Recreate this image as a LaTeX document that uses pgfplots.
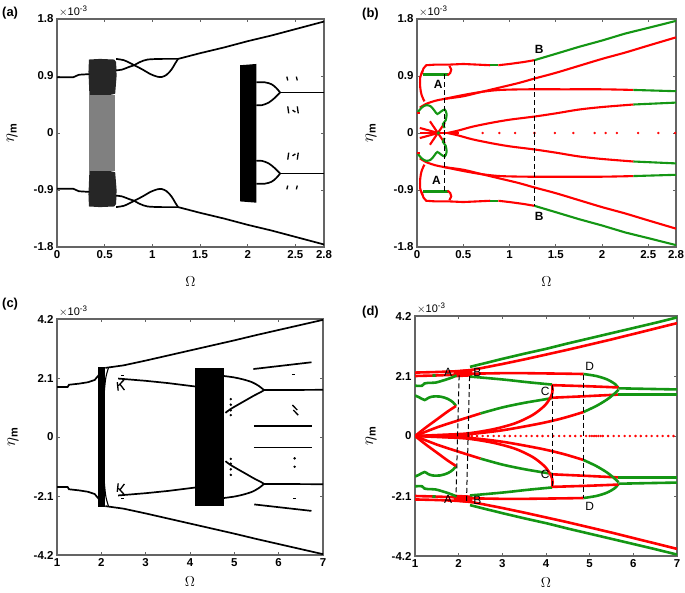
\documentclass[border=0pt]{standalone}
\usepackage{pgfplots}
\pgfplotsset{compat=1.18}
\usepackage{fontspec}
\setmainfont{Liberation Sans}
\definecolor{mred}{RGB}{255,0,0}
\definecolor{mgreen}{RGB}{20,150,20}
\definecolor{frm}{RGB}{100,100,100}
\newcommand{\both}[2]{\addplot[#1] coordinates {#2};\addplot[#1,y filter/.expression={-y}] coordinates {#2};}
\pgfplotsset{
 panel/.style={scale only axis, anchor=south west, clip mode=individual,
  axis line style={frm, line width=1.1bp},
  tick style={frm, line width=0.8bp},
  major tick length=3bp, tick align=inside,
  tick label style={font=\fontsize{11.5}{12}\selectfont\bfseries, text=black},
  xlabel={$\Omega$},
  ylabel={$\eta_{\mbox{\fontsize{11}{11}\selectfont\bfseries m}}$},
  ylabel style={at={(axis description cs:0,0.5)}, anchor=center, font=\fontsize{16}{16}\selectfont},
  xlabel style={at={(axis description cs:0.5,0)}, anchor=center, font=\fontsize{14}{14}\selectfont},
 },
 abx/.style={xmin=0,xmax=2.8,ymin=-1.8,ymax=1.8,
  xtick={0,0.5,1,1.5,2,2.5,2.8}, xticklabels={0,0.5,1,1.5,2,2.5,2.8},
  ytick={-1.8,-0.9,0,0.9,1.8}, yticklabels={-1.8,-0.9,0,0.9,1.8}},
 cdx/.style={xmin=1,xmax=7,ymin=-4.2,ymax=4.2,
  xtick={1,2,3,4,5,6,7}, xticklabels={1,2,3,4,5,6,7},
  ytick={-4.2,-2.1,0,2.1,4.2}, yticklabels={-4.2,-2.1,0,2.1,4.2}},
 blk/.style={black, line width=1.7bp, no marks},
 rd/.style={color=mred, line width=2.1bp, no marks},
 gr/.style={color=mgreen, line width=2.1bp, no marks},
 rdd/.style={color=mred, line width=2.6bp, no marks},
 grd/.style={color=mgreen, line width=2.6bp, no marks},
 dsh/.style={black, line width=1bp, dash pattern=on 5bp off 3bp, no marks},
}
\newcommand{\expo}{\node[anchor=south west, inner sep=0pt, font=\fontsize{11}{11}\selectfont] at (rel axis cs:0,1) [xshift=2bp,yshift=2bp] {$\times$10\raisebox{4bp}{\fontsize{8}{8}\selectfont -3}};}
\begin{document}
\begin{tikzpicture}
\useasboundingbox (0,0) rectangle (685bp,-593bp);
% ---------------- (a)
\begin{axis}[panel, abx, at={(57bp,-247bp)}, width=267bp, height=228bp,
  xlabel style={yshift=-35bp}, ylabel style={yshift=45bp}]
\both{draw=none, fill=black!85}{(0.33,0.97) (0.335,1.16) (0.45,1.17) (0.6,1.16) (0.62,1.12) (0.625,0.9) (0.61,0.62) (0.5,0.58) (0.34,0.6)}
\addplot[draw=none, fill=black!50] coordinates {(0.34,-0.6) (0.34,0.6) (0.61,0.6) (0.61,-0.6)};
\addplot[draw=none, fill=black] coordinates {(1.92,1.07) (2.09,1.09) (2.09,-1.1) (1.92,-1.08)};
\both{blk}{(0,0.88) (0.17,0.88) (0.2,0.9) (0.23,0.92) (0.34,0.93)}
\both{blk,smooth}{(0.62,1.17) (0.7,1.15) (0.76,1.11) (0.81,1.07)}
\both{blk,smooth}{(0.62,0.99) (0.68,1.0) (0.75,1.04) (0.81,1.07)}
\both{blk,smooth}{(0.81,1.07) (0.87,1.12) (0.95,1.16) (1.1,1.17) (1.27,1.17)}
\both{blk}{(1.27,1.17) (1.5,1.26) (1.75,1.35) (2.0,1.45) (2.25,1.54) (2.5,1.64) (2.8,1.76)}
\both{blk,smooth}{(0.81,1.07) (0.9,1.0) (0.98,0.93) (1.05,0.89) (1.1,0.885) (1.15,0.92) (1.2,1.0) (1.24,1.1) (1.27,1.17)}
\both{blk,smooth}{(2.09,0.80) (2.18,0.80) (2.25,0.77) (2.3,0.71) (2.34,0.64)}
\both{blk,smooth}{(2.09,0.44) (2.15,0.44) (2.22,0.48) (2.28,0.55) (2.34,0.64)}
\both{blk}{(2.34,0.64) (2.8,0.64)}
\both{blk,line width=1.3bp}{(2.41,0.89) (2.42,0.83)}
\both{blk,line width=1.3bp}{(2.51,0.89) (2.52,0.83)}
\both{blk,line width=1.3bp}{(2.42,0.42) (2.43,0.31)}
\both{blk,line width=1.3bp}{(2.47,0.36) (2.5,0.33)}
\both{blk,line width=1.3bp}{(2.52,0.42) (2.53,0.31)}
\expo
\end{axis}
% ---------------- (b)
\begin{axis}[panel, abx, at={(417bp,-247bp)}, width=259bp, height=228bp,
  xlabel style={yshift=-35bp}, ylabel style={yshift=46bp}]
\both{rd}{(0.05,0.93) (0.07,1.02) (0.1,1.07) (0.2,1.08) (0.35,1.08) (0.5,1.09) (0.65,1.08) (0.79,1.07)}
\both{gr}{(0.79,1.07) (0.88,1.07)}
\both{rd}{(0.88,1.07) (1.0,1.09) (1.15,1.12) (1.27,1.15)}
\both{gr}{(1.27,1.15) (1.5,1.25) (1.75,1.36) (2.0,1.46) (2.25,1.57) (2.5,1.66) (2.8,1.77)}
\both{rd,smooth}{(0.06,0.98) (0.035,0.88) (0.035,0.72) (0.05,0.6) (0.08,0.5)}
\both{gr,line width=3bp}{(0.07,0.92) (0.33,0.92)}
\both{rd,smooth}{(0.33,0.91) (0.36,0.95) (0.37,1.0) (0.35,1.06)}
\both{rd,smooth}{(0.03,0.40) (0.1,0.46) (0.2,0.51) (0.3,0.54) (0.5,0.6) (0.7,0.65) (0.9,0.68) (1.2,0.69) (1.6,0.69) (2.0,0.69) (2.34,0.68)}
\both{gr}{(2.34,0.68) (2.8,0.66)}
\both{rd,smooth}{(0.3,0.54) (0.5,0.58) (0.7,0.65) (0.9,0.72) (1.1,0.79) (1.27,0.86) (1.5,0.95) (1.75,1.06) (2.0,1.17) (2.25,1.27) (2.5,1.38) (2.8,1.51)}
\both{rd,smooth}{(0.33,0.0) (0.45,0.04) (0.6,0.1) (0.8,0.16) (1.0,0.21) (1.27,0.26) (1.5,0.31) (1.75,0.37) (2.0,0.41) (2.34,0.45)}
\both{gr}{(2.34,0.45) (2.8,0.48)}
\both{rd}{(0.14,0.185) (0.30,-0.16)}
\both{rd}{(0.03,0.08) (0.23,0.0)}
\addplot[rd] coordinates {(0.03,0) (0.45,0)};
\both{gr,smooth}{(0.01,0.33) (0.05,0.40) (0.1,0.44) (0.15,0.42) (0.19,0.35) (0.22,0.3) (0.26,0.34) (0.3,0.37) (0.32,0.3) (0.31,0.2) (0.28,0.14) (0.3,0.08)}
\both{rd}{(0,0.32) (0.03,0.32)}
\addplot[only marks, mark=*, mark size=1.5bp, color=mgreen] coordinates {(0.23,0)};
\addplot[only marks, mark=*, mark size=1bp, color=mred] coordinates {(0.71,0) (0.89,0) (1.06,0) (1.27,0) (1.49,0) (1.69,0) (1.92,0) (2.04,0) (2.16,0) (2.39,0) (2.61,0) (2.79,0)};
\addplot[dsh] coordinates {(0.30,0.93) (0.30,-0.93)};
\addplot[dsh] coordinates {(1.27,1.15) (1.27,-1.15)};
\node[font=\fontsize{12}{12}\selectfont\bfseries] at (axis cs:0.23,0.77) {A};
\node[font=\fontsize{12}{12}\selectfont\bfseries] at (axis cs:0.21,-0.75) {A};
\node[font=\fontsize{12}{12}\selectfont\bfseries] at (axis cs:1.32,1.32) {B};
\node[font=\fontsize{12}{12}\selectfont\bfseries] at (axis cs:1.32,-1.32) {B};
\expo
\end{axis}
% ---------------- (c)
\begin{axis}[panel, cdx, at={(57bp,-555bp)}, width=266bp, height=236bp,
  xlabel style={yshift=-27bp}, ylabel style={yshift=44bp}]
\addplot[draw=none, fill=black] coordinates {(1.93,2.48) (2.09,2.48) (2.09,-2.48) (1.93,-2.48)};
\addplot[draw=none, fill=black] coordinates {(4.11,2.47) (4.77,2.47) (4.77,-2.47) (4.11,-2.47)};
\addplot[blk, line width=1.1bp, smooth] coordinates {(2.16,2.45) (2.1,2.1) (2.06,1.4) (2.04,0) (2.06,-1.4) (2.1,-2.1) (2.16,-2.45)};
\both{blk}{(1,1.78) (1.24,1.78) (1.27,1.86) (1.5,1.9) (1.7,1.95) (1.85,2.03) (1.94,2.2)}
\both{blk}{(2.09,2.46) (2.5,2.55) (3,2.72) (3.5,2.9) (4,3.08) (4.5,3.26) (5,3.44) (5.5,3.63) (6,3.81) (6.5,3.99) (7,4.17)}
\both{blk}{(2.38,2.08) (3,2.0) (3.5,1.92) (4.11,1.8)}
\both{blk,smooth}{(4.77,2.17) (5.0,2.12) (5.2,2.05) (5.4,1.95) (5.55,1.82) (5.67,1.67)}
\both{blk,smooth}{(4.8,0.86) (4.9,0.98) (5.05,1.12) (5.25,1.3) (5.45,1.48) (5.6,1.6) (5.67,1.67)}
\both{blk}{(5.67,1.67) (7,1.68)}
\addplot[blk] coordinates {(5.43,2.42) (6.74,2.66)};
\addplot[blk] coordinates {(5.45,-2.4) (6.74,-2.63)};
\addplot[blk] coordinates {(5.44,0.40) (6.75,0.40)};
\addplot[blk] coordinates {(5.44,-0.37) (6.75,-0.37)};
\both{blk,line width=1.3bp}{(2.36,1.95) (2.38,1.65)}
\both{blk,line width=1.3bp}{(2.38,1.82) (2.52,2.05)}
\both{blk,line width=1.3bp}{(2.42,1.88) (2.52,1.67)}
\both{blk,line width=1.3bp}{(2.44,2.2) (2.52,2.2)}
\addplot[blk,line width=1.3bp] coordinates {(6.3,2.23) (6.36,2.23)};
\addplot[blk,line width=1.3bp] coordinates {(6.31,1.14) (6.42,0.96)};
\addplot[blk,line width=1.3bp] coordinates {(6.33,0.96) (6.44,0.78)};
\addplot[blk,line width=1.3bp] coordinates {(6.33,-2.2) (6.39,-2.2)};
\addplot[only marks, mark=*, mark size=1bp, black] coordinates {(6.36,-0.76) (6.36,-1.06) (4.92,1.35) (4.92,1.15) (4.92,0.95) (4.92,0.78) (4.92,-1.35) (4.92,-1.15) (4.92,-0.95) (4.92,-0.78)};
\expo
\end{axis}
% ---------------- (d)
\begin{axis}[panel, cdx, at={(415bp,-556bp)}, width=262bp, height=240bp,
  xlabel style={yshift=-27bp}, ylabel style={yshift=44bp}]
\both{draw=none, fill=mred}{(1.88,2.05) (2.3,2.08) (2.32,2.36) (1.9,2.3)}
\both{grd}{(2.26,2.42) (3,2.7) (3.5,2.88) (4,3.05) (4.5,3.24) (5,3.42) (5.5,3.6) (6,3.78) (6.5,3.96) (7,4.15)}
\both{rdd}{(1,2.22) (1.5,2.24) (2.0,2.27) (2.26,2.3) (2.6,2.4) (3,2.52) (3.5,2.68) (4,2.85) (4.5,3.02) (5,3.2) (5.5,3.38) (6,3.57) (6.5,3.76) (7,3.95)}
\both{rdd}{(1,2.1) (1.5,2.12) (2.0,2.15) (2.26,2.18) (3,2.2) (3.5,2.2) (4,2.19) (4.5,2.18) (4.86,2.17)}
\both{grd}{(1.4,2.115) (1.47,2.12)}
\both{grd,smooth}{(4.86,2.17) (5.15,2.1) (5.4,1.98) (5.58,1.82) (5.66,1.68)}
\both{grd,smooth}{(1.0,1.76) (1.16,1.76) (1.22,1.84) (1.3,1.86) (1.47,1.87) (1.7,1.97) (1.85,2.05) (1.95,2.12)}
\both{grd,smooth}{(2.26,2.08) (3,1.98) (3.6,1.88) (4.14,1.8)}
\both{rdd}{(4.14,1.78) (5.0,1.74) (5.66,1.7)}
\both{grd}{(5.66,1.67) (6.3,1.65) (7,1.63)}
\both{rdd}{(4.14,1.34) (5.0,1.4) (5.66,1.45)}
\both{grd}{(5.66,1.45) (7,1.45)}
\both{grd,smooth}{(1.0,1.42) (1.1,1.35) (1.22,1.26) (1.3,1.33) (1.4,1.38) (1.58,1.38) (1.75,1.3) (1.87,1.18) (1.94,1.05)}
\both{rdd,smooth}{(1.94,1.05) (1.75,0.86) (1.5,0.58) (1.25,0.3) (1,0)}
\both{rdd,smooth}{(1,0) (1.5,0.3) (2.0,0.55) (2.5,0.79)}
\both{grd,smooth}{(2.5,0.79) (3.0,1.0) (3.5,1.16) (4.0,1.29) (4.14,1.33)}
\both{rdd,smooth}{(1,0) (1.6,0.04) (2.2,0.09) (2.8,0.24) (3.3,0.45) (3.7,0.74) (3.98,1.08) (4.12,1.4) (4.15,1.6) (4.14,1.78)}
\both{rdd,smooth}{(1,0) (1.6,0.02) (2.2,0.06) (3,0.2) (3.87,0.44) (4.4,0.63) (4.86,0.84)}
\both{grd,smooth}{(4.86,0.84) (5.15,1.05) (5.4,1.28) (5.58,1.5) (5.66,1.62)}
\addplot[rdd] coordinates {(1,0) (2.25,0)};
\addplot[only marks, mark=*, mark size=1bp, color=mred] coordinates {(2.3,0) (2.42,0) (2.55,0) (2.67,0) (2.8,0) (2.92,0) (3.05,0) (3.17,0) (3.3,0) (3.42,0) (3.55,0) (3.67,0) (3.8,0) (3.92,0) (4.05,0) (4.17,0) (4.3,0) (4.42,0) (4.55,0) (4.67,0) (4.8,0) (4.92,0) (5.0,0) (5.05,0) (5.1,0) (5.15,0) (5.2,0) (5.25,0) (5.3,0) (5.42,0) (5.55,0) (5.67,0) (5.8,0) (5.92,0) (6.05,0) (6.17,0) (6.3,0) (6.42,0) (6.55,0) (6.67,0) (6.8,0) (6.92,0)};
\addplot[dsh] coordinates {(2.01,2.12) (1.94,-2.1)};
\addplot[dsh] coordinates {(2.25,2.1) (2.18,-2.28)};
\addplot[dsh] coordinates {(4.14,1.8) (4.14,-1.8)};
\addplot[dsh] coordinates {(4.86,2.15) (4.86,-2.17)};
\node[font=\fontsize{12}{12}\selectfont] at (axis cs:1.76,2.24) {A};
\node[font=\fontsize{12}{12}\selectfont] at (axis cs:2.43,2.22) {B};
\node[font=\fontsize{12}{12}\selectfont] at (axis cs:3.98,1.56) {C};
\node[font=\fontsize{12}{12}\selectfont] at (axis cs:5.0,2.44) {D};
\node[font=\fontsize{12}{12}\selectfont] at (axis cs:1.76,-2.22) {A};
\node[font=\fontsize{12}{12}\selectfont] at (axis cs:2.43,-2.25) {B};
\node[font=\fontsize{12}{12}\selectfont] at (axis cs:3.98,-1.33) {C};
\node[font=\fontsize{12}{12}\selectfont] at (axis cs:5.0,-2.45) {D};
\expo
\end{axis}
\node[anchor=west, inner sep=0pt, font=\fontsize{13}{13}\selectfont\bfseries] at (2bp,-13bp) {(a)};
\node[anchor=west, inner sep=0pt, font=\fontsize{13}{13}\selectfont\bfseries] at (362bp,-14bp) {(b)};
\node[anchor=west, inner sep=0pt, font=\fontsize{13}{13}\selectfont\bfseries] at (2bp,-304bp) {(c)};
\node[anchor=west, inner sep=0pt, font=\fontsize{13}{13}\selectfont\bfseries] at (362bp,-312bp) {(d)};
\end{tikzpicture}
\end{document}
